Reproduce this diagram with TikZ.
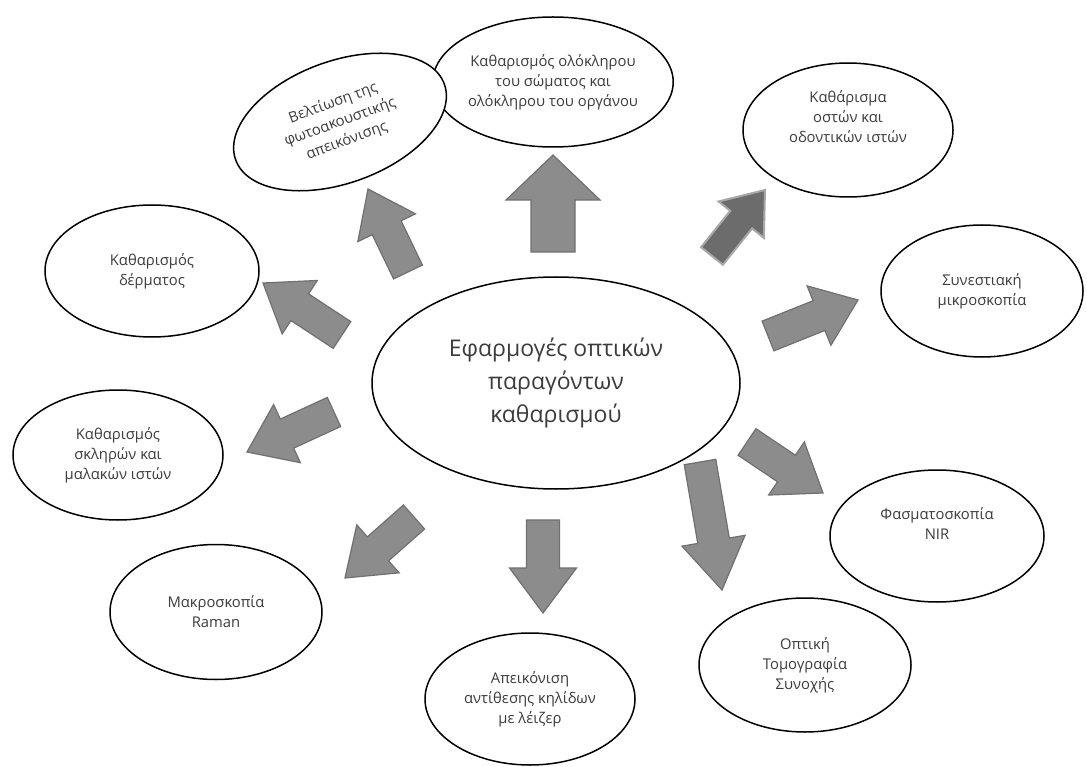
\documentclass[tikz,border=0pt]{standalone}
\usepackage{fontspec}
\setmainfont{Open Sans}
\usetikzlibrary{shapes.geometric,calc}
\definecolor{txt}{HTML}{3C3C3C}
\definecolor{arrfill}{HTML}{8C8C8C}
\definecolor{arrline}{HTML}{707070}
\definecolor{arrdark}{HTML}{6C6C6C}
\tikzset{
  bubble/.style={ellipse, draw=black, line width=1.5pt, fill=white, inner sep=0pt,
    text=txt, align=center, font=\fontsize{14.8}{20}\selectfont},
  hub/.style={bubble, font=\fontsize{23}{33}\selectfont},
  blockarrow/.style={fill=arrfill, draw=arrline, line width=1.2pt, line join=miter},
}
% #1 options, #2 tail, #3 tip, #4 half shaft, #5 half head, #6 head length
\newcommand\blockarr[6][]{%
  \coordinate (#2-h) at ($(#3)!#6!(#2)$);
  \draw[blockarrow,#1] ($(#2)!#4!90:(#3)$) -- ($(#2-h)!#4!90:(#3)$) -- ($(#2-h)!#5!90:(#3)$)
    -- (#3) -- ($(#2-h)!#5!-90:(#3)$) -- ($(#2-h)!#4!-90:(#3)$) -- ($(#2)!#4!-90:(#3)$) -- cycle;}
\begin{document}
\begin{tikzpicture}[x=1pt,y=-1pt]
\useasboundingbox (0,0) rectangle (1087,767);
\fill[white] (0,0) rectangle (1087,767);

% nodes
\node[hub, minimum width=368pt, minimum height=212pt] (c) at (556,383) {Εφαρμογές οπτικών\\παραγόντων\\καθαρισμού};
\node[bubble, minimum width=216pt, minimum height=130pt] (n1) at (553,82) {Καθαρισμός ολόκληρου\\του σώματος και\\ολόκληρου του οργάνου};
\node[bubble, minimum width=210pt, minimum height=134pt] (n2) at (848,130) {Καθάρισμα\\οστών και\\οδοντικών ιστών\\[6pt]};
\node[bubble, minimum width=202pt, minimum height=132pt] (n3) at (982,291) {Συνεστιακή\\μικροσκοπία};
\node[bubble, minimum width=214pt, minimum height=132pt] (n4) at (937,536) {Φασματοσκοπία\\NIR\\[4pt]};
\node[bubble, minimum width=212pt, minimum height=134pt] (n5) at (805,665) {Οπτική\\Τομογραφία\\Συνοχής};
\node[bubble, minimum width=210pt, minimum height=132pt] (n6) at (530,699) {Απεικόνιση\\αντίθεσης κηλίδων\\με λέιζερ};
\node[bubble, minimum width=212pt, minimum height=135pt] (n7) at (216,612) {Μακροσκοπία\\Raman};
\node[bubble, minimum width=210pt, minimum height=130pt] (n8) at (118,455) {Καθαρισμός\\σκληρών και\\μαλακών ιστών};
\node[bubble, minimum width=214pt, minimum height=132pt] (n9) at (152,271) {Καθαρισμός\\δέρματος};
\node[bubble, minimum width=222pt, minimum height=122pt, rotate=20] (n10) at (340,122) {Βελτίωση της\\φωτοακουστικής\\απεικόνισης};

% arrow end points
\coordinate (t1) at (553,252);  \coordinate (p1) at (553,155);
\coordinate (t2) at (712,256);  \coordinate (p2) at (765,190);
\coordinate (t3) at (768,336);  \coordinate (p3) at (858,300);
\coordinate (t4) at (747,442);  \coordinate (p4) at (823,493);
\coordinate (t5) at (700,462);  \coordinate (p5) at (722,590);
\coordinate (t6) at (543,520);  \coordinate (p6) at (543,613);
\coordinate (t7) at (414,517);  \coordinate (p7) at (345,578);
\coordinate (t8) at (334,412);  \coordinate (p8) at (247,452);
\coordinate (t9) at (342,335);  \coordinate (p9) at (263,283);
\coordinate (t10) at (408,272); \coordinate (p10) at (368,189);

\blockarr{t1}{p1}{22pt}{47pt}{45pt}
\blockarr[fill=arrdark, draw=arrdark!60, line width=2pt]{t2}{p2}{14pt}{29pt}{38pt}
\blockarr{t3}{p3}{16pt}{32pt}{42pt}
\blockarr{t4}{p4}{16pt}{32pt}{44pt}
\blockarr{t5}{p5}{16pt}{32pt}{50pt}
\blockarr{t6}{p6}{16.5pt}{33.5pt}{45pt}
\blockarr{t7}{p7}{16pt}{32pt}{44pt}
\blockarr{t8}{p8}{16pt}{32pt}{44pt}
\blockarr{t9}{p9}{16pt}{32pt}{44pt}
\blockarr{t10}{p10}{16pt}{32pt}{43pt}
\end{tikzpicture}
\end{document}
